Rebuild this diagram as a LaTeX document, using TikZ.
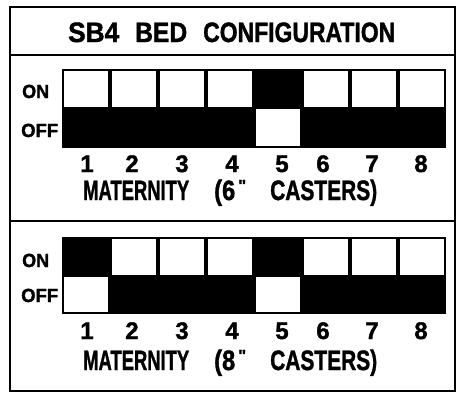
\documentclass[tikz,border=0pt]{standalone}
\usepackage{fontspec}
\setmainfont{Liberation Sans}[BoldFeatures={FakeBold=1.5}]
\newcommand\fitw[2]{\resizebox{#1}{\height}{#2}}
\begin{document}
\begin{tikzpicture}[x=1pt,y=-1pt,
  frame/.style={line width=2pt},
  lbl/.style={font=\fontsize{19}{19}\selectfont\bfseries, inner sep=0pt, anchor=base west},
  num/.style={font=\fontsize{24}{24}\selectfont\bfseries, inner sep=0pt, anchor=base},
  capt/.style={font=\fontsize{28}{28}\selectfont\bfseries, inner sep=0pt, anchor=base west},
  qmark/.style={font=\fontsize{16}{16}\selectfont\bfseries, inner sep=0pt, anchor=base west},
]
\useasboundingbox[fill=white] (0,0) rectangle (456,392);
\draw[frame] (10,7) rectangle (454.5,391);
\draw[frame] (10,55) -- (454.5,55);
\draw[frame] (10,221) -- (454.5,221);
% title
\node[capt] (t1) at (68,42) {\fitw{51pt}{SB4}};
\node[capt] (t2) at (135,42) {\fitw{52pt}{BED}};
\node[capt] (t3) at (203,42) {\fitw{192pt}{CONFIGURATION}};
% top bank
\fill (62,69) rectangle (446,148);
\foreach \i/\s in {1/0,2/0,3/0,4/0,5/1,6/0,7/0,8/0}{
  \pgfmathsetmacro\xl{62+48*(\i-1)}
  \ifnum\s=1
    \fill[white] (\xl+2,109) rectangle (\xl+46,146);
  \else
    \fill[white] (\xl+2,71) rectangle (\xl+46,106.5);
  \fi
}
\node[lbl] (on1) at (22,98) {\fitw{27pt}{ON}};
\node[lbl] (off1) at (21,137) {\fitw{37pt}{OFF}};
\foreach \n/\x in {1/87,2/132,3/182,4/232,5/282,6/323,7/372,8/421}{
  \node[num] (a\n) at (\x,172) {\n};
}
\node[capt] (c1a) at (83,200) {\fitw{106pt}{MATERNITY}};
\node[capt] (c1b) at (214,200) {\fitw{21pt}{(6}};
\node[qmark] (c1q) at (238,191) {\fitw{8pt}{\textquotedbl}};
\node[capt] (c1c) at (270,200) {\fitw{107pt}{CASTERS)}};
% bottom bank
\fill (62,237) rectangle (446,314);
\foreach \i/\s in {1/1,2/0,3/0,4/0,5/1,6/0,7/0,8/0}{
  \pgfmathsetmacro\xl{62+48*(\i-1)}
  \ifnum\s=1
    \fill[white] (\xl+2,277) rectangle (\xl+46,312);
  \else
    \fill[white] (\xl+2,239) rectangle (\xl+46,274.5);
  \fi
}
\node[lbl] (on2) at (22,267) {\fitw{27pt}{ON}};
\node[lbl] (off2) at (21,302) {\fitw{37pt}{OFF}};
\foreach \n/\x in {1/87,2/132,3/182,4/232,5/282,6/323,7/372,8/421}{
  \node[num] (b\n) at (\x,339) {\n};
}
\node[capt] (c2a) at (83,370) {\fitw{106pt}{MATERNITY}};
\node[capt] (c2b) at (214,370) {\fitw{21pt}{(8}};
\node[qmark] (c2q) at (238,361) {\fitw{8pt}{\textquotedbl}};
\node[capt] (c2c) at (270,370) {\fitw{107pt}{CASTERS)}};
\end{tikzpicture}
\end{document}
